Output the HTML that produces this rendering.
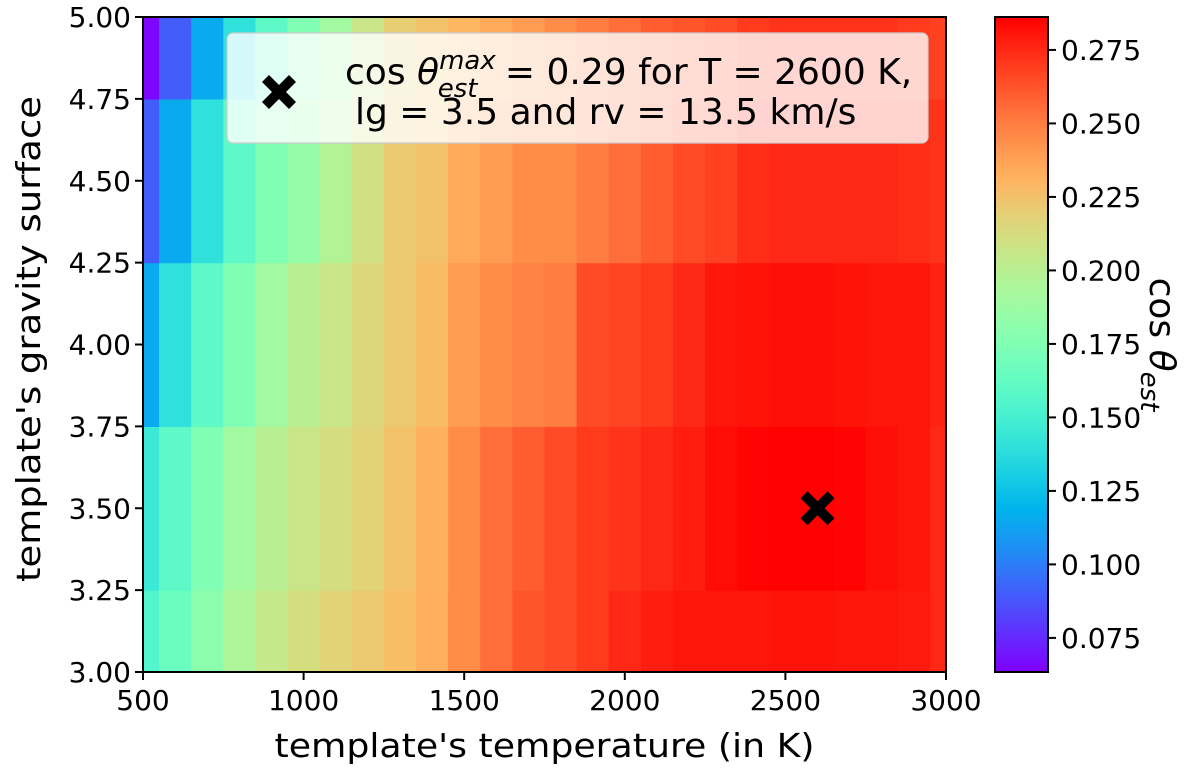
<!DOCTYPE html>
<html><head><meta charset="utf-8">
<style>
html,body{margin:0;padding:0;background:#fff;width:1200px;height:773px;overflow:hidden}
svg text{font-family:"DejaVu Sans","Liberation Sans",sans-serif;fill:#000}
</style></head>
<body>
<svg id="chart" width="1200" height="773" viewBox="0 0 1200 773" xmlns="http://www.w3.org/2000/svg">
<g id="cells"></g>
<g id="axes"></g>
<g id="cbar"></g>
</svg>
<script>
const temps = [500,600,700,800,900,1000,1100,1200,1300,1400,1500,1600,1700,1800,1900,2000,2100,2200,2300,2400,2500,2600,2700,2800,2900,3000];
const gravities = [3.0,3.5,4.0,4.5,5.0];
const row30 = [0.155,0.165,0.18,0.195,0.205,0.212,0.217,0.222,0.227,0.233,0.245,0.255,0.262,0.265,0.27,0.275,0.278,0.28,0.28,0.28,0.281,0.281,0.28,0.28,0.279,0.275];
const row35 = [0.145,0.16,0.175,0.19,0.2,0.207,0.212,0.217,0.225,0.232,0.245,0.255,0.26,0.265,0.27,0.272,0.275,0.278,0.283,0.285,0.286,0.286,0.285,0.282,0.28,0.275];
const row40 = [0.115,0.14,0.16,0.175,0.19,0.2,0.207,0.215,0.222,0.228,0.24,0.245,0.248,0.25,0.265,0.267,0.27,0.275,0.28,0.281,0.282,0.282,0.281,0.28,0.28,0.277];
const row45 = [0.09,0.115,0.14,0.16,0.175,0.185,0.197,0.21,0.222,0.225,0.235,0.24,0.245,0.245,0.25,0.255,0.26,0.265,0.268,0.274,0.275,0.275,0.275,0.275,0.274,0.272];
const row50 = [0.065,0.09,0.115,0.14,0.16,0.175,0.19,0.207,0.22,0.225,0.23,0.235,0.24,0.245,0.25,0.255,0.26,0.262,0.265,0.27,0.272,0.272,0.272,0.272,0.27,0.268];
const values = [row30,row35,row40,row45,row50];
const xTicks = [500,1000,1500,2000,2500,3000];
const yTicks = [3.00,3.25,3.50,3.75,4.00,4.25,4.50,4.75,5.00];
const cbTicks = [0.075,0.100,0.125,0.150,0.175,0.200,0.225,0.250,0.275];
const best = {t:2600, g:3.5};
const vmin = 0.0634, vmax = 0.2862;

const NS="http://www.w3.org/2000/svg";
const L=143,R=946,T=17,B=672;
const xs = t => L + (t-500)/2500*(R-L);
const ys = g => B - (g-3)/2*(B-T);
function cmap(v){
  let x=Math.max(0,Math.min(1,(v-vmin)/(vmax-vmin)));
  let r=Math.min(1,Math.abs(2*x-0.5)), g=Math.sin(Math.PI*x), b=Math.cos(Math.PI*x/2);
  return `rgb(${Math.round(r*255)},${Math.round(g*255)},${Math.round(b*255)})`;
}
function mk(tag,attrs,parent){const e=document.createElementNS(NS,tag);for(const k in attrs)e.setAttribute(k,attrs[k]);parent.appendChild(e);return e;}
const cells=document.getElementById('cells');
gravities.forEach((g,j)=>{
  temps.forEach((t,i)=>{
    const x0=xs(Math.max(500,t-50)), x1=xs(Math.min(3000,t+50));
    const y0=ys(Math.min(5,g+0.25)), y1=ys(Math.max(3,g-0.25));
    const r=mk('rect',{x:x0,y:y0,width:x1-x0+0.6,height:y1-y0+0.6,fill:cmap(values[j][i])},cells);
    
    
  });
});
const ax=document.getElementById('axes');
const fr=mk('rect',{x:L,y:T,width:R-L,height:B-T,fill:'none',stroke:'#000','stroke-width':2},ax);


xTicks.forEach(t=>{
  mk('line',{x1:xs(t),x2:xs(t),y1:B,y2:B+8,stroke:'#000','stroke-width':2},ax);
  const tx=mk('text',{x:xs(t),y:B+38,'text-anchor':'middle','font-size':28},ax);
  tx.textContent=t;
  
  
});
yTicks.forEach(g=>{
  mk('line',{x1:L-8,x2:L,y1:ys(g),y2:ys(g),stroke:'#000','stroke-width':2},ax);
  const tx=mk('text',{x:L-12,y:ys(g)+10,'text-anchor':'end','font-size':28},ax);
  tx.textContent=g.toFixed(2);
  
  
});
const xl=mk('text',{x:(L+R)/2,y:757,'text-anchor':'middle','font-size':33,textLength:540,lengthAdjust:'spacingAndGlyphs'},ax);
xl.textContent="template's temperature (in K)";


const yl=mk('text',{x:0,y:0,'text-anchor':'middle','font-size':33,textLength:486,lengthAdjust:'spacingAndGlyphs',transform:`translate(40,339) rotate(-90)`},ax);
yl.textContent="template's gravity surface";


function cross(cx,cy,parent,name){
  const a=17,w=7;
  const p=mk('path',{d:`M${cx-a+w},${cy-a} L${cx},${cy-w} L${cx+a-w},${cy-a} L${cx+a},${cy-a+w} L${cx+w},${cy} L${cx+a},${cy+a-w} L${cx+a-w},${cy+a} L${cx},${cy+w} L${cx-a+w},${cy+a} L${cx-a},${cy+a-w} L${cx-w},${cy} L${cx-a},${cy-a+w} Z`,fill:'#000'},parent);
  
  
}
cross(xs(best.t),ys(best.g),ax,'best-fit-marker');
const lg=mk('g',{},ax);


mk('rect',{x:227,y:33,width:701,height:110,rx:6,fill:'rgba(255,255,255,0.8)',stroke:'#ccc','stroke-width':1.2},lg);
cross(279,92,lg,'legend-marker');
const t1=mk('text',{x:345,y:84,'font-size':36},lg);
t1.innerHTML='cos <tspan font-style="italic">θ</tspan><tspan font-style="italic" font-size="26" dy="-15">max</tspan><tspan font-style="italic" font-size="26" dx="-58" dy="28">est</tspan><tspan dx="16" dy="-13"> = 0.29 for T = 2600 K,</tspan>';


const t2=mk('text',{x:355,y:124,'font-size':36},lg);
t2.textContent='lg = 3.5 and rv = 13.5 km/s';


const cb=document.getElementById('cbar');
const CL=995,CR=1048;
const cy=v=>B-(v-vmin)/(vmax-vmin)*(B-T);
const defs=mk('defs',{},cb);
const grad=mk('linearGradient',{id:'cg',x1:0,y1:1,x2:0,y2:0},defs);
for(let k=0;k<=20;k++){mk('stop',{offset:k/20,'stop-color':cmap(vmin+(vmax-vmin)*k/20)},grad);}
const cbr=mk('rect',{x:CL,y:T,width:CR-CL,height:B-T,fill:'url(#cg)',stroke:'#000','stroke-width':2},cb);


cbTicks.forEach(v=>{
  mk('line',{x1:CR,x2:CR+8,y1:cy(v),y2:cy(v),stroke:'#000','stroke-width':2},cb);
  const tx=mk('text',{x:CR+13,y:cy(v)+10,'font-size':28},cb);
  tx.textContent=v.toFixed(3);
  
  
});
const cl=mk('text',{x:0,y:0,'font-size':36,'text-anchor':'middle',transform:`translate(1150,${(T+B)/2}) rotate(90)`},cb);
cl.innerHTML='cos <tspan font-style="italic">θ</tspan><tspan font-style="italic" font-size="26" dy="9">est</tspan>';


</script>
</body></html>
